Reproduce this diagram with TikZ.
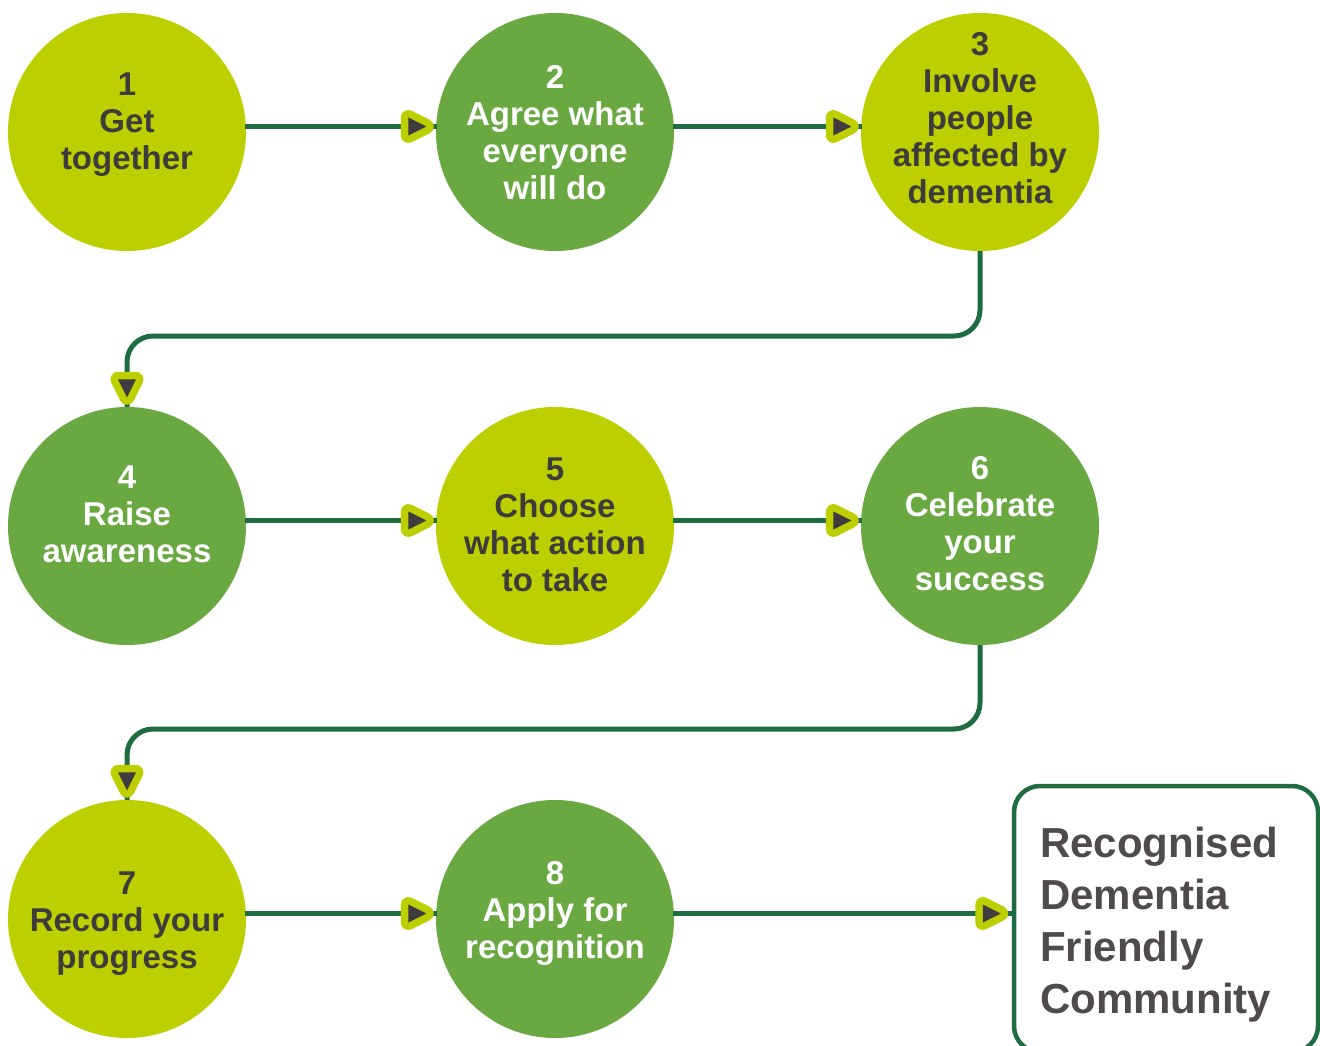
\documentclass[tikz,border=0pt]{standalone}
\usepackage{fontspec}
\setmainfont{Liberation Sans}
\usetikzlibrary{calc}
\definecolor{dflime}{HTML}{BDCF00}
\definecolor{dfgreen}{HTML}{6AA842}
\definecolor{dfline}{HTML}{1F6C40}
\definecolor{dftip}{HTML}{403B40}
\definecolor{dftext}{HTML}{3D3B3B}
\definecolor{dfbox}{HTML}{4F4A4E}
\begin{document}
\begin{tikzpicture}[x=1pt,y=-1pt,
  circ/.style={circle, minimum size=238pt, inner sep=0pt},
  limec/.style={circ, fill=dflime},
  greenc/.style={circ, fill=dfgreen},
  lab/.style={align=center, font=\fontsize{33}{37}\selectfont\bfseries, inner sep=0pt},
  darklab/.style={lab, text=dftext},
  whitelab/.style={lab, text=white},
  conn/.style={draw=dfline, line width=5pt},
  tipright/.pic={
    \draw[dflime, fill=dflime, line width=15pt, line join=round] (-9,-9)--(9,0)--(-9,9)--cycle;
    \fill[dftip] (-9,-9)--(9,0)--(-9,9)--cycle;},
  tipdown/.pic={
    \draw[dflime, fill=dflime, line width=15pt, line join=round] (-9,-9)--(9,-9)--(0,9)--cycle;
    \fill[dftip] (-9,-9)--(9,-9)--(0,9)--cycle;}
]
\useasboundingbox (0,0) rectangle (1320,1046);

% circles
\node[limec]  (c1) at (127,132) {};
\node[greenc] (c2) at (555,132) {};
\node[limec]  (c3) at (980,132) {};
\node[greenc] (c4) at (127,526) {};
\node[limec]  (c5) at (555,526) {};
\node[greenc] (c6) at (980,526) {};
\node[limec]  (c7) at (127,919) {};
\node[greenc] (c8) at (555,919) {};

% labels
\node[darklab]  (t1) at (127,124.5) {1\\Get\\together};
\node[whitelab] (t2) at (555,133) {2\\Agree what\\everyone\\will do};
\node[darklab]  (t3) at (980,118.5) {3\\Involve\\people\\affected by\\dementia};
\node[whitelab] (t4) at (127,514) {4\\Raise\\awareness};
\node[darklab]  (t5) at (555,524.5) {5\\Choose\\what action\\to take};
\node[whitelab] (t6) at (980,524) {6\\Celebrate\\your\\success};
\node[darklab]  (t7) at (127,923.5) {7\\Record your\\progress};
\node[whitelab] (t8) at (555,913.5) {8\\Apply for\\recognition};

% final box
\node[draw=dfline, line width=4.5pt, rounded corners=26pt, minimum width=304pt,
      minimum height=266pt, inner sep=0pt, fill=white] (box) at (1166,919) {};
\node[anchor=north west, inner sep=0pt, align=left, text=dfbox,
      font=\fontsize{42}{52}\selectfont\bfseries] (bt) at (1040,827)
      {Recognised\\Dementia\\Friendly\\Community};

% connector end points, a little above the circle centres
\foreach \n in {1,...,8} {
  \coordinate (o\n) at ($(c\n.east)+(-1,-5.5)$);
  \coordinate (i\n) at ($(c\n.west)+(1,-5.5)$);
}
\coordinate (e8) at (box.west |- o8);

% connectors
\draw[conn] (o1) -- (i2);
\draw[conn] (o2) -- (i3);
\draw[conn] (o4) -- (i5);
\draw[conn] (o5) -- (i6);
\draw[conn] (o7) -- (i8);
\draw[conn] (o8) -- (e8);
\coordinate (m1) at (554,336);
\coordinate (m2) at (554,729);
\draw[conn, rounded corners=26pt] (c3.south) |- (m1) -| (c4.north);
\draw[conn, rounded corners=26pt] (c6.south) |- (m2) -| (c7.north);

% tips
\pic at ([xshift=-19.5pt]i2) {tipright};
\pic at ([xshift=-19.5pt]i3) {tipright};
\pic at ([xshift=-19.5pt]i5) {tipright};
\pic at ([xshift=-19.5pt]i6) {tipright};
\pic at ([xshift=-19.5pt]i8) {tipright};
\pic at ([xshift=-20pt]e8) {tipright};
\pic at ([yshift=18.5pt]c4.north) {tipdown};
\pic at ([yshift=18.5pt]c7.north) {tipdown};
\end{tikzpicture}
\end{document}
